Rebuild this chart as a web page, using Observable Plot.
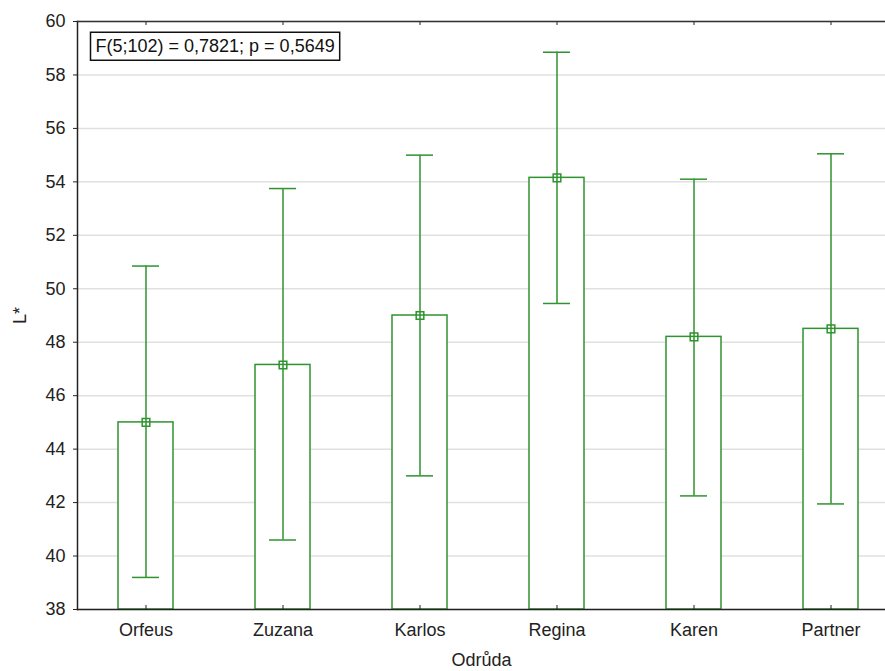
<!DOCTYPE html>
<html>
<head>
<meta charset="utf-8">
<script src="https://cdn.jsdelivr.net/npm/d3@7"></script>
<script src="https://cdn.jsdelivr.net/npm/@observablehq/plot@0.6"></script>
<style>
  html, body { margin: 0; padding: 0; background: #fff; }
  #chart { width: 885px; height: 671px; }
  svg { font-family: "Liberation Sans", Arial, sans-serif; }
</style>
</head>
<body>
<div id="chart"></div>
<script>
const categories = ["Orfeus", "Zuzana", "Karlos", "Regina", "Karen", "Partner"];
const means = [45.0, 47.15, 49.0, 54.15, 48.2, 48.5];
const lower = [39.2, 40.6, 43.0, 49.45, 42.25, 41.95];
const upper = [50.85, 53.75, 55.0, 58.85, 54.1, 55.05];
const yTicks = [38, 40, 42, 44, 46, 48, 50, 52, 54, 56, 58, 60];
const statLabel = "F(5;102) = 0,7821; p = 0,5649";
const xTitle = "Odrůda";
const yTitle = "L*";

const data = categories.map((c, i) => ({cat: c, mean: means[i], lo: lower[i], hi: upper[i]}));
const green = "#2f932f";
const yMin = 38, yMax = 60;

const plot = Plot.plot({
  width: 885,
  height: 671,
  marginLeft: 77,
  marginRight: 0,
  marginTop: 21,
  marginBottom: 62,
  style: {fontFamily: "'Liberation Sans', Arial, sans-serif", fontSize: "18px", background: "#fff", color: "#222"},
  x: {domain: categories, range: [77, 899], padding: 0},
  y: {domain: [yMin, yMax]},
  marks: [
    Plot.gridY(yTicks, {stroke: "#e0e0e0", strokeOpacity: 1, strokeWidth: 1.5}),
    Plot.barY(data, {x: "cat", y1: yMin, y2: "mean", insetLeft: 41, insetRight: 41, fill: "white", stroke: green, strokeWidth: 1.5}),
    Plot.ruleX(data, {x: "cat", y1: "lo", y2: "hi", stroke: green, strokeWidth: 1.5}),
    Plot.tickY(data, {x: "cat", y: "lo", insetLeft: 55, insetRight: 55, stroke: green, strokeWidth: 1.5}),
    Plot.tickY(data, {x: "cat", y: "hi", insetLeft: 55, insetRight: 55, stroke: green, strokeWidth: 1.5}),
    Plot.dot(data, {x: "cat", y: "mean", symbol: "square", r: 4.3, fill: "none", stroke: green, strokeWidth: 1.5}),
    Plot.ruleX(categories, {x: d => d, y1: yMin, y2: yMin + 0.15, stroke: "#222"}),
    Plot.ruleX(categories, {x: d => d, y1: yMax - 0.15, y2: yMax, stroke: "#222"}),
    Plot.frame({anchor: "left", stroke: "#222", strokeWidth: 1.5}),
    Plot.frame({anchor: "top", stroke: "#333", strokeWidth: 1.5}),
    Plot.frame({anchor: "bottom", stroke: "#222", strokeWidth: 1.5}),
    Plot.axisY(yTicks, {tickSize: 4, tickPadding: 8, fontSize: 18, label: yTitle, labelAnchor: "center", labelArrow: "none", labelOffset: 64, fill: "#222"}),
    Plot.axisX({tickSize: 0, tickPadding: 14, fontSize: 18, label: xTitle, labelAnchor: "center", labelArrow: "none", labelOffset: 56, fill: "#222"}),
    Plot.text([statLabel], {text: d => d, frameAnchor: "top-left", dx: 18, dy: 25, textAnchor: "start", lineAnchor: "middle", fontSize: 18, fill: "#111", className: "stat-label"})
  ]
});

document.getElementById("chart").appendChild(plot);

// draw the frame around the statistics label
const t = plot.querySelector(".stat-label text");
if (t) {
  const b = t.getBBox();
  const ns = "http://www.w3.org/2000/svg";
  const r = document.createElementNS(ns, "rect");
  r.setAttribute("x", b.x - 5);
  r.setAttribute("y", b.y - 4);
  r.setAttribute("width", b.width + 10);
  r.setAttribute("height", b.height + 8);
  r.setAttribute("fill", "white");
  r.setAttribute("stroke", "#111");
  r.setAttribute("stroke-width", 1.5);
  r.setAttribute("transform", t.getAttribute("transform") || "");
  t.parentNode.insertBefore(r, t);
}
</script>
</body>
</html>
